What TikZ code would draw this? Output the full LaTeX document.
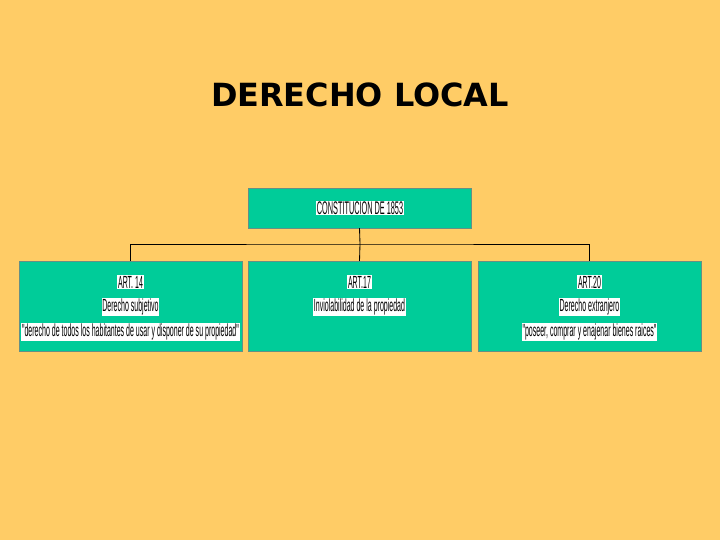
\documentclass[tikz,border=0pt]{standalone}
\usepackage{fontspec}
\setmainfont{Liberation Sans}
\newfontfamily\titlefont{DejaVu Sans}
\newfontfamily\narrowfont[FakeStretch=0.40]{Liberation Sans}
\definecolor{fondo}{RGB}{255,204,102}
\definecolor{verde}{RGB}{0,204,153}
\tikzset{
  caja/.style={fill=verde, draw=gray!80!verde, line width=0.6pt, inner sep=0pt, outer sep=0pt,
    minimum width=5.575cm},
  linea/.style={fill=white, inner sep=0.6pt, font=\narrowfont\fontsize{12.5}{13}\selectfont},
}
\begin{document}
\begin{tikzpicture}[x=0.025cm, y=-0.025cm]
% fondo
\fill [fondo] (0,0) rectangle (720,540);

% titulo
\node (titulo) at (360,95) {\titlefont\bfseries\fontsize{22.7}{26}\selectfont DERECHO LOCAL};

% cajas
\node [caja, minimum height=1cm] (const) at (359.5,208) {};
\node [caja, minimum height=2.25cm] (art14) at (130.5,306) {};
\node [caja, minimum height=2.25cm] (art17) at (359.5,306) {};
\node [caja, minimum height=2.25cm] (art20) at (589.5,306) {};

% textos
\node [linea, font=\narrowfont\fontsize{13}{14}\selectfont] (tconst) at (360,208) {CONSTITUCION DE 1853};

\node [linea] (t14a) at (130.5,282) {ART. 14};
\node [linea] (t14b) at (130.5,307) {Derecho subjetivo};
\node [linea] (t14c) at (130.5,332) {"derecho de todos los habitantes de usar y disponer de su propiedad"};

\node [linea] (t17a) at (359.5,282) {ART.17};
\node [linea] (t17b) at (359.5,307) {Inviolabilidad de la propiedad};

\node [linea] (t20a) at (589.5,282) {ART.20};
\node [linea] (t20b) at (589.5,307) {Derecho extranjero};
\node [linea] (t20c) at (589.5,332) {"poseer, comprar y enajenar bienes raices"};

% conectores
\coordinate (bus) at (360,244);
\draw [line width=0.6pt] (const.south) -- (bus);
\draw [line width=0.6pt] (art14.north) |- (bus) -| (art20.north);
\draw [line width=0.6pt] (bus) -- (art17.north);
\end{tikzpicture}
\end{document}
